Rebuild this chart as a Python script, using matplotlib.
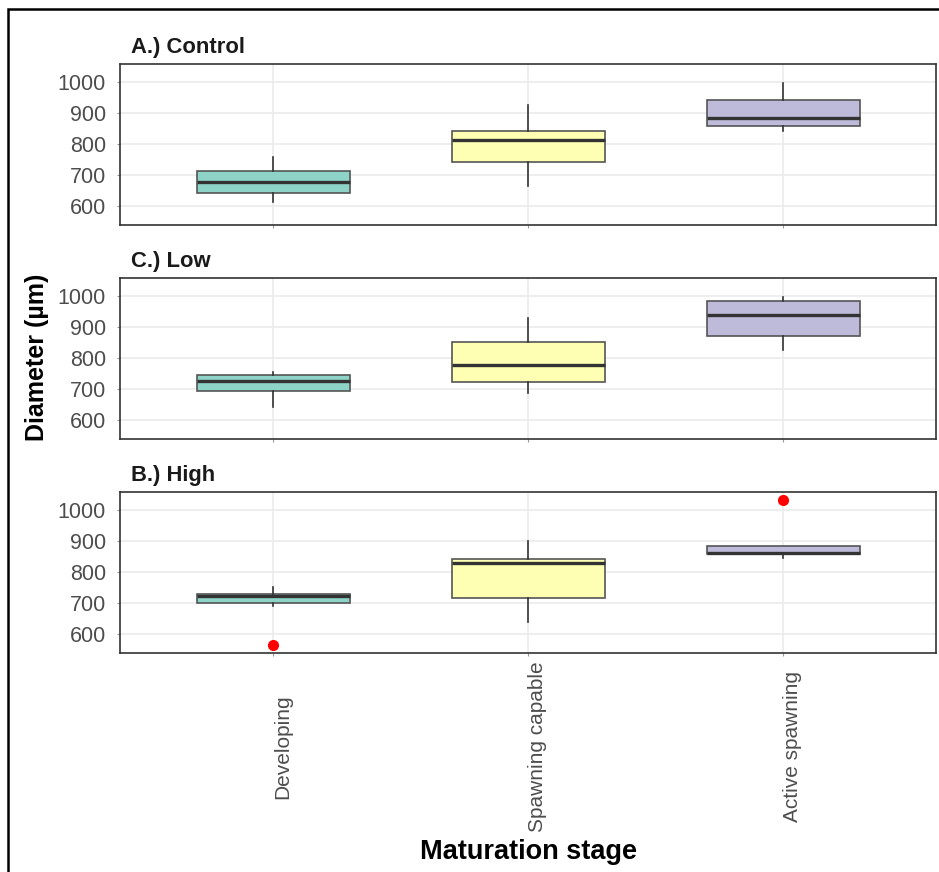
import matplotlib
matplotlib.use('Agg')
import matplotlib.pyplot as plt
from matplotlib.patches import Rectangle

plt.rcParams['font.family'] = ['Liberation Sans', 'DejaVu Sans']

# Dane: kwartyle, wasy i wartosci odstajace dla kazdego panelu
stages = ['Developing', 'Spawning capable', 'Active spawning']
panel_titles = ['A.) Control', 'C.) Low', 'B.) High']
box_colors = ['#8DD3C7', '#FFFFB3', '#BEBADA']

control_q1 = [642, 740, 857]
control_med = [678, 811, 883]
control_q3 = [711, 841, 941]
control_lo = [613, 662, 841]
control_hi = [759, 925, 997]
control_out = [[], [], []]

low_q1 = [694, 723, 872]
low_med = [726, 777, 940]
low_q3 = [745, 851, 983]
low_lo = [640, 685, 825]
low_hi = [754, 930, 997]
low_out = [[], [], []]

high_q1 = [698, 714, 859]
high_med = [721, 828, 861]
high_q3 = [727, 842, 884]
high_lo = [689, 637, 846]
high_hi = [750, 899, 884]
high_out = [[562], [], [1032]]

yticks = [600, 700, 800, 900, 1000]

panels = [
    (control_q1, control_med, control_q3, control_lo, control_hi, control_out),
    (low_q1, low_med, low_q3, low_lo, low_hi, low_out),
    (high_q1, high_med, high_q3, high_lo, high_hi, high_out),
]

W, H = 939, 872
fig = plt.figure(figsize=(W / 100, H / 100), dpi=100)

# polozenie paneli w pikselach (gora, dol)
rows = [(64, 225), (278, 439), (492, 653)]
left, right = 120, 936

axes = []
for k, (q1, med, q3, lo, hi, out) in enumerate(panels):
    top, bottom = rows[k]
    ax = fig.add_axes([left / W, 1 - bottom / H, (right - left) / W, (bottom - top) / H])
    axes.append(ax)

    stats = []
    for i in range(len(stages)):
        stats.append({'med': med[i], 'q1': q1[i], 'q3': q3[i],
                      'whislo': lo[i], 'whishi': hi[i], 'fliers': out[i]})
    bp = ax.bxp(stats, positions=[1, 2, 3], widths=0.6, patch_artist=True,
                showcaps=False,
                boxprops=dict(edgecolor='#555555', linewidth=1.2),
                medianprops=dict(color='#333333', linewidth=2.4),
                whiskerprops=dict(color='#333333', linewidth=1.2),
                flierprops=dict(marker='o', markerfacecolor='red', markeredgecolor='red',
                                markersize=7))
    for patch, c in zip(bp['boxes'], box_colors):
        patch.set_facecolor(c)

    ax.set_xlim(0.4, 3.6)
    ax.set_ylim(537, 1059)
    ax.set_yticks(yticks)
    ax.set_xticks([1, 2, 3])
    ax.grid(True, color='#EBEBEB', linewidth=1.2)
    ax.set_axisbelow(True)
    for s in ax.spines.values():
        s.set_color('#333333')
        s.set_linewidth(1.2)
    ax.tick_params(axis='y', labelsize=15.5, labelcolor='#4D4D4D', color='#999999',
                   length=2.2, pad=8)
    ax.tick_params(axis='x', color='#999999', length=2.2)
    ax.annotate(panel_titles[k], xy=(0, 1), xycoords='axes fraction',
                xytext=(8, 8), textcoords='offset points',
                fontsize=15.8, fontweight='bold', color='#1a1a1a', va='baseline')
    if k < 2:
        ax.set_xticklabels([])

axes[2].set_xticklabels(stages, rotation=90, va='center', ha='left',
                        fontsize=15, color='#4D4D4D')
axes[2].tick_params(axis='x', pad=65)

fig.text(37 / W, 1 - 357 / H, 'Diameter (µm)', rotation=90, ha='center', va='center',
         fontsize=18, fontweight='bold')
fig.text(528 / W, 1 - 852 / H, 'Maturation stage', ha='center', va='center',
         fontsize=19.5, fontweight='bold')

# ramka wokol calego rysunku
fig.add_artist(Rectangle((8 / W, -0.05), 1.0, 1 - 9 / H + 0.05, fill=False,
                         edgecolor='black', linewidth=1.8, transform=fig.transFigure))

plt.savefig('out.png', dpi=100)
